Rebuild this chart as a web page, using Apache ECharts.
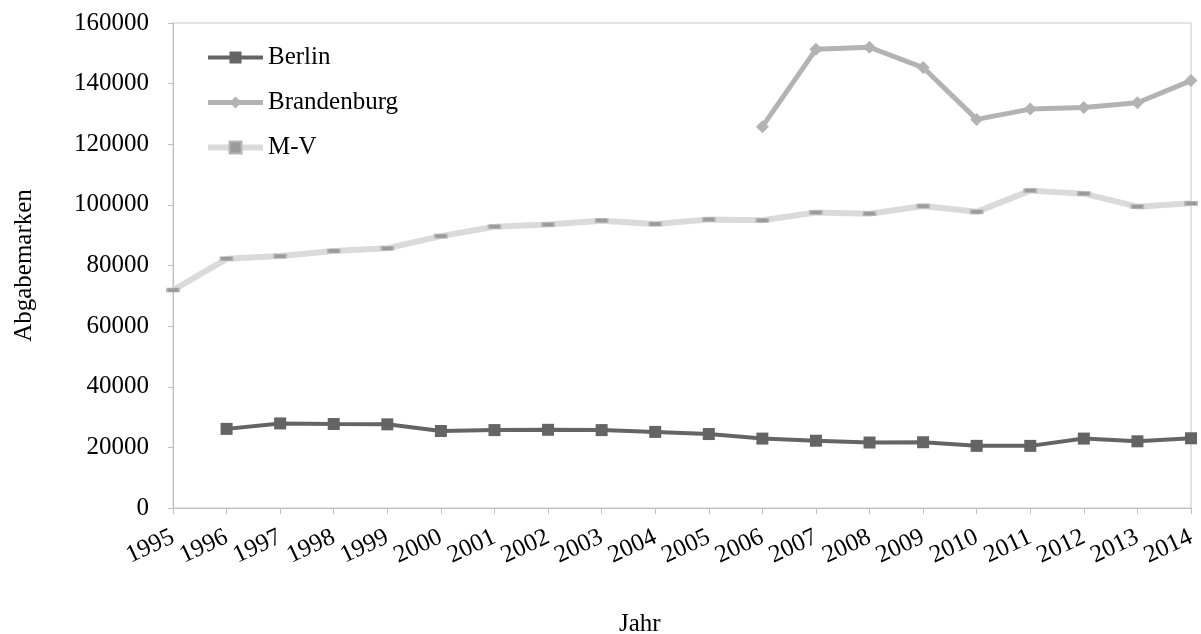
<!DOCTYPE html>
<html>
<head>
<meta charset="utf-8">
<script src="https://cdn.jsdelivr.net/npm/echarts@6/dist/echarts.min.js"></script>
<style>
html,body{margin:0;padding:0;background:#fff;}
#chart{width:1201px;height:634px;}
</style>
</head>
<body>
<div id="chart"></div>
<script>
const years = ['1995','1996','1997','1998','1999','2000','2001','2002','2003','2004','2005','2006','2007','2008','2009','2010','2011','2012','2013','2014'];
const berlin = [null,26100,27900,27700,27600,25400,25700,25800,25700,25100,24400,22900,22200,21600,21700,20500,20500,22900,22000,23000];
const brandenburg = [null,null,null,null,null,null,null,null,null,null,null,125800,151300,152000,145300,128200,131600,132100,133700,141000];
const mv = [71900,82200,83100,84800,85700,89700,92800,93500,94800,93700,95200,94900,97500,97100,99600,97700,104700,103700,99400,100500];
const yTicks = {min:0, max:160000, interval:20000};

const font = 'Liberation Serif';
const chart = echarts.init(document.getElementById('chart'), null, {renderer:'canvas'});
chart.setOption({
  animation:false,
  backgroundColor:'#fff',
  textStyle:{fontFamily:font, color:'#000'},
  grid:{left:173, right:10, top:23, bottom:126, outerBoundsMode:'none', containLabel:false,
        show:true, borderColor:'#c8c8c8', borderWidth:1, backgroundColor:'transparent'},
  legend:{
    orient:'vertical', left:205, top:45, padding:0, itemWidth:55, itemHeight:15, itemGap:20,
    textStyle:{fontFamily:font, fontSize:25, color:'#000', lineHeight:25},
    data:[
      {name:'Berlin', lineStyle:{width:4, color:'#646464'}},
      {name:'Brandenburg', lineStyle:{width:5, color:'#b3b3b3'}},
      {name:'M-V', lineStyle:{width:6, color:'#dadada'}}
    ]
  },
  xAxis:{
    type:'category', data:years, boundaryGap:false,
    axisLine:{lineStyle:{color:'#c0c0c0', width:1}},
    axisTick:{show:true, length:6, lineStyle:{color:'#c0c0c0'}},
    axisLabel:{rotate:25, margin:28, fontFamily:font, fontSize:25, color:'#000', interval:0},
    splitLine:{show:false}
  },
  yAxis:{
    type:'value', min:yTicks.min, max:yTicks.max, interval:yTicks.interval,
    name:'Abgabemarken', nameLocation:'middle', nameGap:136, nameRotate:90,
    nameTextStyle:{fontFamily:font, fontSize:25, color:'#000'},
    axisLine:{show:true, lineStyle:{color:'#c0c0c0', width:1}},
    axisTick:{show:true, length:5, lineStyle:{color:'#c0c0c0'}},
    axisLabel:{margin:24, fontFamily:font, fontSize:25, color:'#000', formatter:function(v){return String(v);}},
    splitLine:{show:false}
  },
  graphic:[{type:'text', left:619, top:612, style:{text:'Jahr', font:'25px "Liberation Serif"', fill:'#000'}}],
  series:[
    {name:'M-V', type:'line', data:mv, symbol:'rect', symbolSize:[12,4], showAllSymbol:true,
     lineStyle:{color:'#dadada', width:6}, itemStyle:{color:'#9a9a9a', borderColor:'#b5b5b5', borderWidth:1}, z:2},
    {name:'Brandenburg', type:'line', data:brandenburg, symbol:'diamond', symbolSize:13, showAllSymbol:true,
     lineStyle:{color:'#b3b3b3', width:5}, itemStyle:{color:'#b3b3b3'}, z:3},
    {name:'Berlin', type:'line', data:berlin, symbol:'rect', symbolSize:12, showAllSymbol:true,
     lineStyle:{color:'#646464', width:4}, itemStyle:{color:'#646464'}, z:4}
  ]
});
</script>
</body>
</html>
